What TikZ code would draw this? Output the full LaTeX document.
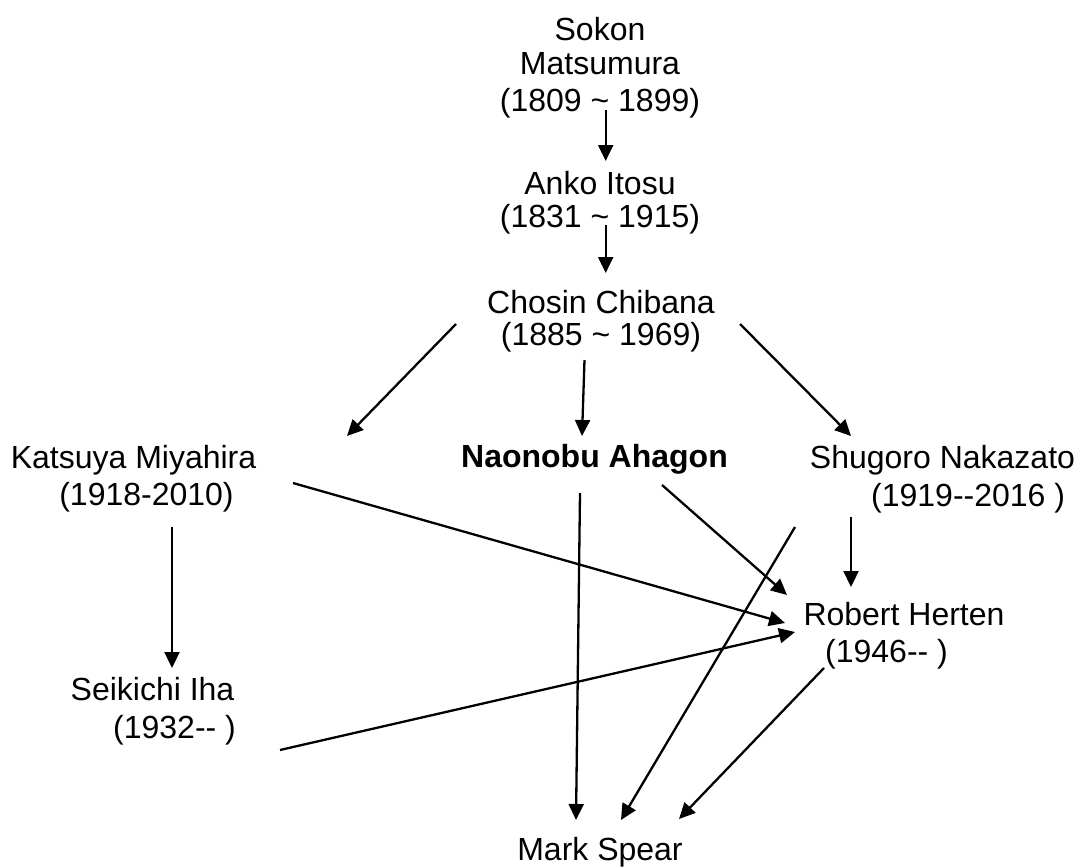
\documentclass[tikz,border=0pt]{standalone}
\usepackage{fontspec}
\setmainfont{Liberation Sans}
\usetikzlibrary{arrows.meta}
\newcommand\dbl{-\kern0pt-}
\newcommand\tld{\symbol{126}}
\begin{document}
\begin{tikzpicture}[x=1pt,y=-1pt,
  txt/.style={inner sep=0pt,anchor=base,font=\fontsize{32}{38}\selectfont},
  txtw/.style={inner sep=0pt,anchor=base west,font=\fontsize{32}{38}\selectfont},
  link/.style={line width=2.3pt,-{Triangle[length=16pt,width=15pt]}}]
\useasboundingbox (0,0) rectangle (1077,867);
% people
\node[txt] (sokonA) at (600,41) {Sokon};
\node[txt] (sokonB) at (600,75) {Matsumura};
\node[txt] (sokonC) at (600,111) {(1809 \tld{} 1899)};
\node[txt] (ankoA) at (600,194) {Anko Itosu};
\node[txt] (ankoB) at (600,227) {(1831 \tld{} 1915)};
\node[txt] (chosinA) at (601,313) {Chosin Chibana};
\node[txt] (chosinB) at (601,345) {(1885 \tld{} 1969)};
\node[txt] (miyA) at (133.5,468) {Katsuya Miyahira};
\node[txt] (miyB) at (146.5,505) {(1918-2010)};
\node[txt,font=\fontsize{32}{38}\selectfont\bfseries] (aha) at (594.5,467) {Naonobu Ahagon};
\node[txt] (nakA) at (942.5,468) {Shugoro Nakazato};
\node[txtw] (nakB) at (871,506) {(1919\dbl2016 )};
\node[txt] (ihaA) at (152.5,700) {Seikichi Iha};
\node[txtw] (ihaB) at (113,738) {(1932\dbl{} )};
\node[txt] (herA) at (904,625) {Robert Herten};
\node[txtw] (herB) at (825,662) {(1946\dbl{} )};
\node[txt] (mark) at (600,860) {Mark Spear};
% connector ends
\coordinate (s1) at (605.7,110); \coordinate (e1) at (605.7,161);
\coordinate (s2) at (605.7,225); \coordinate (e2) at (605.7,273);
\coordinate (s3) at (456,324); \coordinate (e3) at (347,436);
\coordinate (s4) at (584.5,360); \coordinate (e4) at (582,436);
\coordinate (s5) at (740,324); \coordinate (e5) at (851,436);
\coordinate (s6) at (172,527); \coordinate (e6) at (172,668);
\coordinate (s7) at (293,483); \coordinate (e7) at (785,623);
\coordinate (s8) at (280,750); \coordinate (e8) at (795,632);
\coordinate (s9) at (580,493); \coordinate (e9) at (576,820);
\coordinate (s10) at (662,485); \coordinate (e10) at (787,595);
\coordinate (s11) at (795,527); \coordinate (e11) at (621,820);
\coordinate (s12) at (851,517); \coordinate (e12) at (851,587);
\coordinate (s13) at (824,668); \coordinate (e13) at (679,819);
\foreach \i in {1,...,13} {\draw[link] (s\i) -- (e\i);}
\end{tikzpicture}
\end{document}
